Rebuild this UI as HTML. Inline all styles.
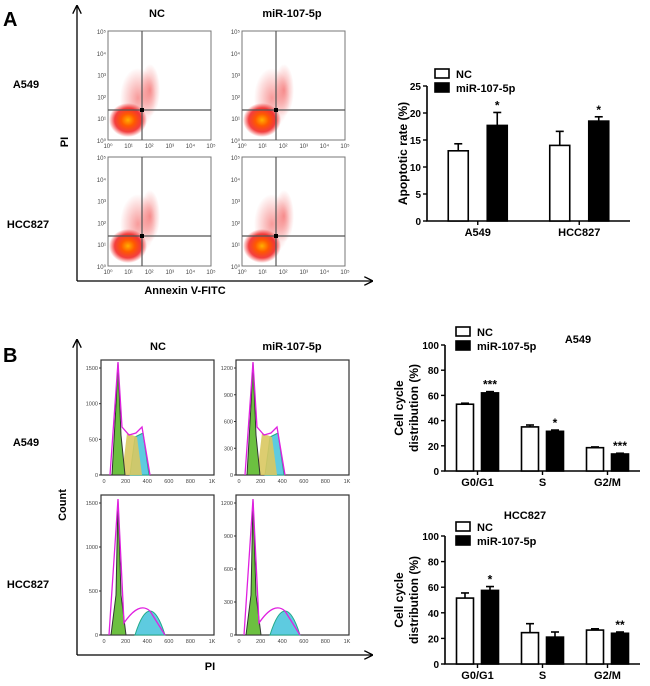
<!DOCTYPE html>
<html><head><meta charset="utf-8"><style>
body{margin:0;background:#fff;}
svg{display:block;font-family:"Liberation Sans",Arial,sans-serif;}
</style></head><body>
<svg id="fig" width="650" height="686" viewBox="0 0 650 686" xmlns="http://www.w3.org/2000/svg">
<defs>
<radialGradient id="blob" cx="50%" cy="50%" r="50%">
<stop offset="0" stop-color="#ffb000"/><stop offset="0.35" stop-color="#ff5a00"/><stop offset="0.7" stop-color="#f01010" stop-opacity="0.8"/><stop offset="1" stop-color="#f01010" stop-opacity="0"/>
</radialGradient>
<radialGradient id="blob2" cx="50%" cy="50%" r="50%">
<stop offset="0" stop-color="#ee2020" stop-opacity="0.45"/><stop offset="1" stop-color="#ee2020" stop-opacity="0"/>
</radialGradient>
<marker id="arr" viewBox="0 0 10 10" refX="9" refY="5" markerWidth="7" markerHeight="7" orient="auto"><path d="M0,0 L10,5 L0,10" fill="none" stroke="#000" stroke-width="1.5"/></marker>
</defs>

<text x="3" y="26" font-size="20" font-weight="bold">A</text>
<text x="157" y="17" font-size="11" font-weight="bold" text-anchor="middle">NC</text>
<text x="292" y="17" font-size="11" font-weight="bold" text-anchor="middle">miR-107-5p</text>
<text x="26" y="88" font-size="11" font-weight="bold" text-anchor="middle">A549</text>
<text x="28" y="228" font-size="11" font-weight="bold" text-anchor="middle">HCC827</text>
<line x1="77" y1="281" x2="77" y2="6" stroke="#000" stroke-width="1.3" marker-end="url(#arr)"/>
<line x1="77" y1="281" x2="372" y2="281" stroke="#000" stroke-width="1.3" marker-end="url(#arr)"/>
<text x="68" y="142" font-size="11" font-weight="bold" transform="rotate(-90 68 142)" text-anchor="middle">PI</text>
<text x="185" y="294" font-size="11" font-weight="bold" text-anchor="middle">Annexin V-FITC</text>
<g id="scatters"></g>

<text x="3" y="362" font-size="20" font-weight="bold">B</text>
<text x="158" y="350" font-size="11" font-weight="bold" text-anchor="middle">NC</text>
<text x="292" y="350" font-size="11" font-weight="bold" text-anchor="middle">miR-107-5p</text>
<text x="26" y="446" font-size="11" font-weight="bold" text-anchor="middle">A549</text>
<text x="28" y="588" font-size="11" font-weight="bold" text-anchor="middle">HCC827</text>
<line x1="77" y1="655" x2="77" y2="340" stroke="#000" stroke-width="1.3" marker-end="url(#arr)"/>
<line x1="77" y1="655" x2="372" y2="655" stroke="#000" stroke-width="1.3" marker-end="url(#arr)"/>
<text x="66" y="505" font-size="11" font-weight="bold" transform="rotate(-90 66 505)" text-anchor="middle">Count</text>
<text x="210" y="670" font-size="11" font-weight="bold" text-anchor="middle">PI</text>
<g id="hists"></g>

<g id="barcharts"></g>
</svg>
<script>
const NS="http://www.w3.org/2000/svg";
function mk(tag,attrs,parent,txt){const e=document.createElementNS(NS,tag);for(const k in attrs)e.setAttribute(k,attrs[k]);if(txt!==undefined)e.textContent=txt;parent.appendChild(e);return e;}

const apoCategories=["A549","HCC827"];
const apoNC=[13,14];
const apoMiR=[17.7,18.5];
const apoNCErr=[1.3,2.6];
const apoMiRErr=[2.4,0.8];
const apoSig=["*","*"];
const apoTicks=[0,5,10,15,20,25];

const ccCategories=["G0/G1","S","G2/M"];
const a549NC=[53,35,18.5];
const a549MiR=[62,31.5,13.5];
const a549NCErr=[0.8,1.5,0.6];
const a549MiRErr=[1,1,0.6];
const a549Sig=["***","*","***"];
const hccNC=[51.5,24.5,26.5];
const hccMiR=[57.5,21,24];
const hccNCErr=[4,7,1];
const hccMiRErr=[3,4,1];
const hccSig=["*","","**"];
const ccTicks=[0,20,40,60,80,100];

const bc=document.getElementById('barcharts');
function barChart(o){
  const g=mk('g',{},bc);
  
  
  const ymax=o.ticks[o.ticks.length-1];
  const y=v=>o.y0-(v/ymax)*(o.y0-o.y1);
  const cw=(o.xEnd-o.x0)/o.cats.length;
  const bx=(i,s)=>o.x0+cw*i+cw*0.5+(s?o.gap/2:-o.gap/2-o.bw);
  const ax=mk('path',{d:`M${o.x0},${o.y1} V${o.y0} H${o.xEnd}`,fill:'none',stroke:'#000','stroke-width':1.6},g);
  
  
  o.ticks.forEach(t=>{
    mk('line',{x1:o.x0-4,x2:o.x0,y1:y(t),y2:y(t),stroke:'#000','stroke-width':1.4},g);
    const tl=mk('text',{x:o.x0-6,y:y(t)+4,'font-size':10,'font-weight':'bold','text-anchor':'end'},g,String(t));
    
    
  });
  o.cats.forEach((c,i)=>{
    const cx=o.x0+cw*i+cw*0.5;
    mk('line',{x1:cx,x2:cx,y1:o.y0,y2:o.y0+4,stroke:'#000','stroke-width':1.4},g);
    const cl=mk('text',{x:cx,y:o.y0+15,'font-size':11,'font-weight':'bold','text-anchor':'middle'},g,c);
    
    
    [[o.nc,o.ncErr,'#fff',''],[o.mir,o.mirErr,'#000',o.sig[i]]].forEach((s,si)=>{
      const v=s[0][i],e=s[1][i],x=bx(i,si);
      mk('line',{x1:x+o.bw/2,x2:x+o.bw/2,y1:y(v),y2:y(v+e),stroke:'#000','stroke-width':1.6},g);
      mk('line',{x1:x+o.bw/2-4,x2:x+o.bw/2+4,y1:y(v+e),y2:y(v+e),stroke:'#000','stroke-width':1.6},g);
      const r=mk('rect',{x:x,y:y(v),width:o.bw,height:o.y0-y(v),fill:s[2],stroke:'#000','stroke-width':1.6},g);
      
      
      if(s[3]){const st=mk('text',{x:x+o.bw/2,y:y(v+e)-3,'font-size':12,'font-weight':'bold','text-anchor':'middle'},g,s[3]);
        
        }
    });
  });
  const ytl=mk('text',{'font-size':12,'font-weight':'bold','text-anchor':'middle',transform:`translate(${o.labX},${(o.y0+o.y1)/2}) rotate(-90)`},g);
  o.label.forEach((l,k)=>mk('tspan',{x:0,dy:k?15:0},ytl,l));
  
  
  const lg=mk('g',{},g);
  
  
  mk('rect',{x:o.legX,y:o.legY,width:14,height:9,fill:'#fff',stroke:'#000','stroke-width':1.6},lg);
  mk('text',{x:o.legX+21,y:o.legY+9,'font-size':11,'font-weight':'bold'},lg,'NC');
  mk('rect',{x:o.legX,y:o.legY+14,width:14,height:9,fill:'#000',stroke:'#000','stroke-width':1.6},lg);
  mk('text',{x:o.legX+21,y:o.legY+23,'font-size':11,'font-weight':'bold'},lg,'miR-107-5p');
  if(o.title){const t=mk('text',{x:o.titleX,y:o.titleY,'font-size':11,'font-weight':'bold','text-anchor':'middle'},g,o.title);
    
    }
}
barChart({name:'apoptosis-bar-chart',cats:apoCategories,nc:apoNC,mir:apoMiR,ncErr:apoNCErr,mirErr:apoMiRErr,sig:apoSig,ticks:apoTicks,
  x0:427,xEnd:630,y0:221,y1:86,bw:20,gap:19,labX:407,label:['Apoptotic rate (%)'],legX:435,legY:69});
barChart({name:'a549-cell-cycle-chart',cats:ccCategories,nc:a549NC,mir:a549MiR,ncErr:a549NCErr,mirErr:a549MiRErr,sig:a549Sig,ticks:ccTicks,
  x0:445,xEnd:640,y0:471,y1:345,bw:17,gap:8,labX:403,label:['Cell cycle','distribution (%)'],legX:456,legY:327,title:'A549',titleX:578,titleY:343});
barChart({name:'hcc827-cell-cycle-chart',cats:ccCategories,nc:hccNC,mir:hccMiR,ncErr:hccNCErr,mirErr:hccMiRErr,sig:hccSig,ticks:ccTicks,
  x0:445,xEnd:640,y0:664,y1:536,bw:17,gap:8,labX:403,label:['Cell cycle','distribution (%)'],legX:456,legY:522,title:'HCC827',titleX:525,titleY:519});

const sc=document.getElementById('scatters');
[[108,31,'scatter-nc-a549'],[242,31,'scatter-mir-a549'],[108,157,'scatter-nc-hcc827'],[242,157,'scatter-mir-hcc827']].forEach(p=>{
  const [x,y,n]=p,w=103,h=109;
  const g=mk('g',{},sc);
  
  
  mk('rect',{x:x,y:y,width:w,height:h,fill:'#fff',stroke:'#777','stroke-width':1},g);
  mk('ellipse',{cx:x+30,cy:y+h-42,rx:18,ry:30,fill:'url(#blob2)'},g);
  mk('ellipse',{cx:x+42,cy:y+h-50,rx:10,ry:26,fill:'url(#blob2)'},g);
  mk('ellipse',{cx:x+20,cy:y+h-20,rx:19,ry:17,fill:'url(#blob)'},g);
  mk('line',{x1:x+34,x2:x+34,y1:y,y2:y+h,stroke:'#555','stroke-width':1.2},g);
  mk('line',{x1:x,x2:x+w,y1:y+79,y2:y+79,stroke:'#555','stroke-width':1.2},g);
  mk('rect',{x:x+32,y:y+77,width:4,height:4,fill:'#000'},g);
  for(let i=0;i<=5;i++){
    mk('text',{x:x-2,y:y+h-i*h/5+3,'font-size':6,fill:'#444','text-anchor':'end'},g,'10'+['⁰','¹','²','³','⁴','⁵'][i]);
    mk('text',{x:x+i*w/5,y:y+h+8,'font-size':6,fill:'#444','text-anchor':'middle'},g,'10'+['⁰','¹','²','³','⁴','⁵'][i]);
  }
});

const hg=document.getElementById('hists');
[[101,360,115,'hist-nc-a549',['1500','1000','500','0'],0],[236,360,115,'hist-mir-a549',['1200','900','600','300','0'],0],
 [101,495,140,'hist-nc-hcc827',['1500','1000','500','0'],1],[236,495,140,'hist-mir-hcc827',['1200','900','600','300','0'],1]].forEach(p=>{
  const [x,y,h,n,tl,row]=p,w=113,b=y+h;
  const g=mk('g',{},hg);
  
  
  mk('rect',{x:x,y:y,width:w,height:h,fill:'#fff',stroke:'#333','stroke-width':1.2},g);
  tl.forEach((t,i)=>{const ty=y+8+i*(h-8)/(tl.length-1);
    mk('text',{x:x-3,y:ty+2,'font-size':5.5,fill:'#444','text-anchor':'end'},g,t);
    mk('line',{x1:x-2,x2:x,y1:ty,y2:ty,stroke:'#333'},g);});
  ['0','200','400','600','800','1K'].forEach((t,i)=>mk('text',{x:x+3+i*21.6,y:b+8,'font-size':5.5,fill:'#444','text-anchor':'middle'},g,t));
  const px=x+16;
  if(!row){
    mk('path',{d:`M${px+13},${b} L${px+18},${b-38} L${px+26},${b-42} L${px+32},${b}Z`,fill:'#5ecbe0',stroke:'#2a8'},g);
    mk('path',{d:`M${px+5},${b} L${px+10},${b-42} L${px+20},${b-38} L${px+25},${b}Z`,fill:'#d9c860',opacity:0.9},g);
    mk('path',{d:`M${px-5},${b} L${px-1},${b-70} L${px+1},${b-h+2} L${px+4},${b-40} L${px+8},${b}Z`,fill:'#6cc040',stroke:'#333'},g);
    mk('path',{d:`M${px-7},${b} L${px+1},${b-h+2} L${px+5},${b-48} L${px+12},${b-40} L${px+19},${b-42} L${px+25},${b-48} L${px+33},${b}`,fill:'none',stroke:'#e020e0','stroke-width':1.3},g);
  } else {
    mk('path',{d:`M${px+18},${b} Q${px+33},${b-48} ${px+48},${b}Z`,fill:'#5ecbe0',stroke:'#2a8'},g);
    mk('path',{d:`M${px-6},${b} L${px-1},${b-40} L${px+1},${b-h+4} L${px+4},${b-40} L${px+9},${b}Z`,fill:'#6cc040',stroke:'#333'},g);
    mk('path',{d:`M${px-8},${b} L${px+1},${b-h+4} L${px+7},${b-12} Q${px+22},${b-34} ${px+33},${b-24} L${px+48},${b}`,fill:'none',stroke:'#e020e0','stroke-width':1.3},g);
  }
});
</script>
</body></html>
